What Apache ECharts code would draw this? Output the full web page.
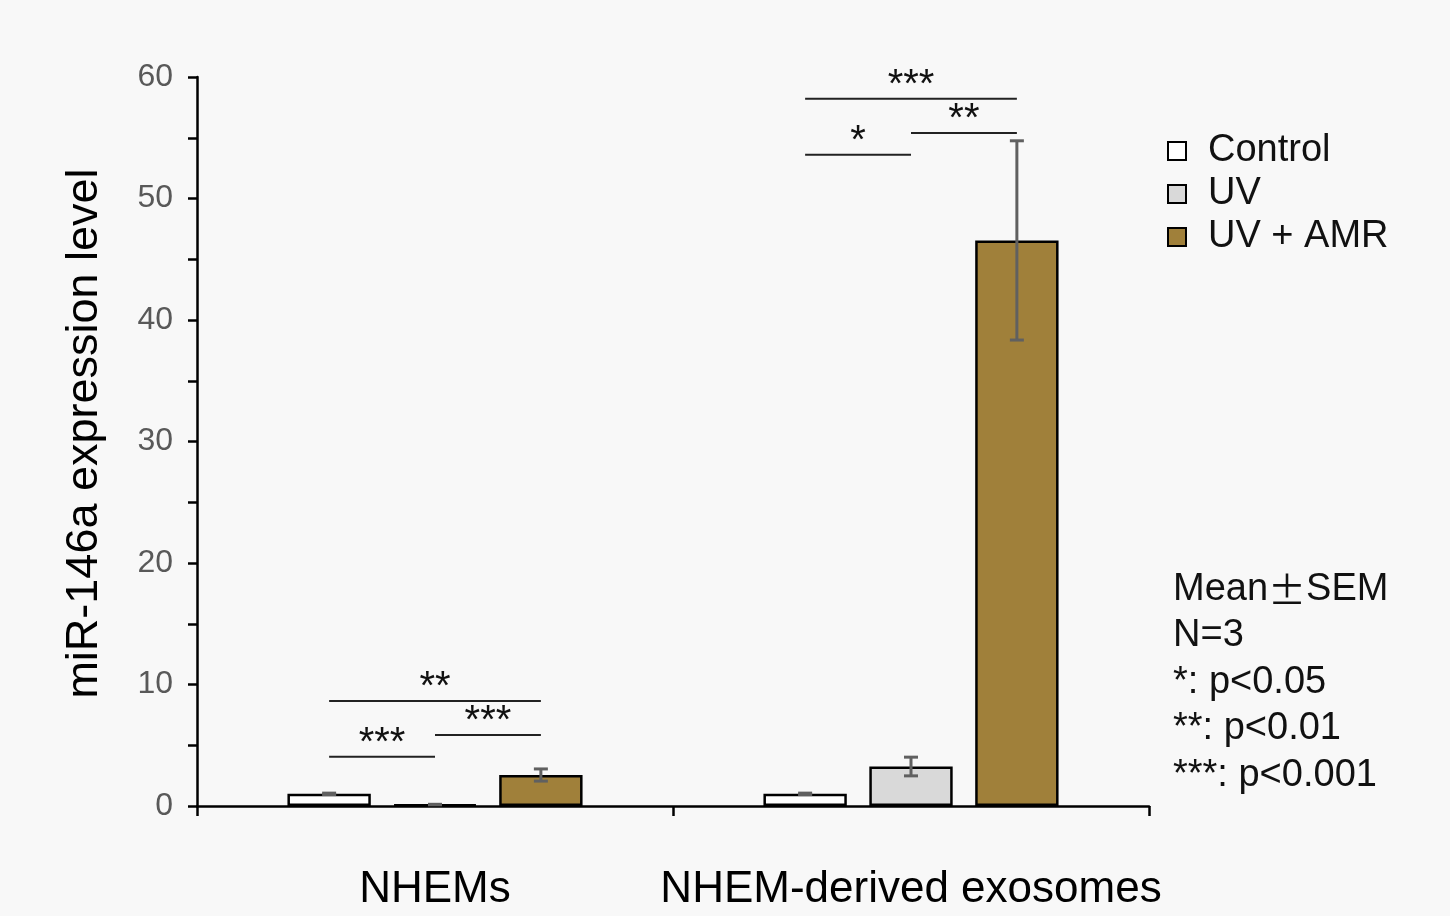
<!DOCTYPE html>
<html>
<head>
<meta charset="utf-8">
<script src="https://cdn.jsdelivr.net/npm/echarts@6/dist/echarts.min.js"></script>
<style>
html,body{margin:0;padding:0;background:#f8f8f8;}
#chart{width:1450px;height:916px;}
</style>
</head>
<body>
<div id="chart"></div>
<script>
// ---- data ----
const categories = ['NHEMs', 'NHEM-derived exosomes'];
const seriesNames = ['Control', 'UV', 'UV + AMR'];
const controlMean = [1.0, 1.0];
const controlSem = [0.06, 0.06];
const uvMean = [0.12, 3.25];
const uvSem = [0.02, 0.77];
const amrMean = [2.55, 46.55];
const amrSem = [0.5, 8.2];
const yTicks = [0, 10, 20, 30, 40, 50, 60];
// significance brackets
const sigCategory = [0, 0, 0, 1, 1, 1];
const sigFrom = [0, 0, 1, 0, 0, 1];
const sigTo = [2, 1, 2, 2, 1, 2];
const sigY = [8.65, 4.05, 5.85, 58.2, 53.6, 55.4];
const sigLabel = ['**', '***', '***', '***', '*', '**'];
const noteLines = ['Mean{pm|±}SEM', 'N=3', '*: p<0.05', '**: p<0.01', '***: p<0.001'];

// ---- styles ----
const colors = ['#ffffff', '#d9d9d9', '#a0803a'];
const CAT_GAP = 0.38, BAR_GAP = 0.27, NBARS = 3;

function barCenterOffset(api, idx) {
  const band = api.size([1, 0])[0];
  const w = band * (1 - CAT_GAP) / (NBARS + (NBARS - 1) * BAR_GAP);
  const total = NBARS * w + (NBARS - 1) * w * BAR_GAP;
  return -total / 2 + idx * w * (1 + BAR_GAP) + w / 2;
}

const means = [controlMean, uvMean, amrMean];
const sems = [controlSem, uvSem, amrSem];

const barSeries = seriesNames.map((n, i) => ({
  name: n,
  type: 'bar',
  data: means[i],
  barGap: (BAR_GAP * 100) + '%',
  barCategoryGap: (CAT_GAP * 100) + '%',
  itemStyle: { color: colors[i], borderColor: '#000', borderWidth: 2.5 },
  z: 2
}));

const errData = [];
for (let s = 0; s < 3; s++) {
  for (let c = 0; c < categories.length; c++) {
    errData.push([c, means[s][c], sems[s][c], s]);
  }
}

const errSeries = {
  type: 'custom',
  z: 5,
  silent: true,
  data: errData,
  encode: { x: 0, y: 1 },
  renderItem: function (params, api) {
    const c = api.value(0), m = api.value(1), e = api.value(2), s = api.value(3);
    const cx = api.coord([c, 0])[0] + barCenterOffset(api, s);
    const yt = api.coord([c, m + e])[1];
    const yb = api.coord([c, m - e])[1];
    const hw = 7;
    const st = { stroke: '#606060', lineWidth: 3 };
    return {
      type: 'group',
      children: [
        { type: 'line', shape: { x1: cx, y1: yt, x2: cx, y2: yb }, style: st },
        { type: 'line', shape: { x1: cx - hw, y1: yt, x2: cx + hw, y2: yt }, style: st },
        { type: 'line', shape: { x1: cx - hw, y1: yb, x2: cx + hw, y2: yb }, style: st }
      ]
    };
  }
};

const sigData = sigCategory.map((c, i) => [c, sigY[i], sigFrom[i], sigTo[i], i]);
const sigSeries = {
  type: 'custom',
  z: 6,
  silent: true,
  clip: false,
  data: sigData,
  encode: { x: 0, y: 1 },
  renderItem: function (params, api) {
    const c = api.value(0), yv = api.value(1), f = api.value(2), t = api.value(3), k = api.value(4);
    const base = api.coord([c, 0])[0];
    const x1 = base + barCenterOffset(api, f);
    const x2 = base + barCenterOffset(api, t);
    const y = api.coord([c, yv])[1];
    return {
      type: 'group',
      children: [
        { type: 'line', shape: { x1: x1, y1: y, x2: x2, y2: y }, style: { stroke: '#222', lineWidth: 2 } },
        { type: 'text', x: (x1 + x2) / 2, y: y + 7,
          style: { text: sigLabel[k], fill: '#111', font: '40px "Liberation Sans", Arial, sans-serif', align: 'center', verticalAlign: 'bottom' } }
      ]
    };
  }
};

const chart = echarts.init(document.getElementById('chart'), null, { renderer: 'canvas' });
chart.setOption({
  backgroundColor: '#f8f8f8',
  animation: false,
  textStyle: { fontFamily: '"Liberation Sans", Arial, sans-serif' },
  grid: { left: 197, right: 301, top: 77, bottom: 110, containLabel: false },
  legend: {
    data: seriesNames,
    orient: 'vertical',
    left: 1162,
    top: 127,
    itemWidth: 18,
    itemHeight: 18,
    itemGap: 5,
    icon: 'rect',
    selectedMode: false,
    textStyle: { fontSize: 38, color: '#111', lineHeight: 37, padding: [0, 0, 0, 17] }
  },
  xAxis: {
    type: 'category',
    data: categories,
    axisLine: { lineStyle: { color: '#000', width: 2.5 } },
    axisTick: { show: true, length: 10, lineStyle: { color: '#000', width: 2.5 } },
    axisLabel: { fontSize: 44, color: '#000', margin: 62, interval: 0, hideOverlap: false }
  },
  yAxis: {
    type: 'value',
    min: 0,
    max: 60,
    interval: 5,
    name: 'miR-146a expression level',
    nameLocation: 'middle',
    nameGap: 90,
    nameTextStyle: { fontSize: 45, color: '#000', padding: [0, 0, 0, 16] },
    axisLine: { show: true, lineStyle: { color: '#000', width: 2.5 } },
    axisTick: { show: true, length: 9, lineStyle: { color: '#000', width: 2.5 } },
    axisLabel: {
      fontSize: 32, color: '#595959', margin: 24,
      formatter: function (v) { return yTicks.indexOf(v) >= 0 ? String(v) : ''; }
    },
    splitLine: { show: false }
  },
  graphic: [{
    type: 'text',
    left: 1173,
    top: 566,
    style: {
      text: noteLines.join('\n'),
      font: '38px "Liberation Sans", Arial, sans-serif',
      lineHeight: 46.5,
      fill: '#111',
      rich: { pm: { fontFamily: '"Noto Sans CJK JP"', fontSize: 38, fill: '#111', lineHeight: 46.5 } }
    }
  }],
  series: barSeries.concat([errSeries, sigSeries])
});
</script>
</body>
</html>
